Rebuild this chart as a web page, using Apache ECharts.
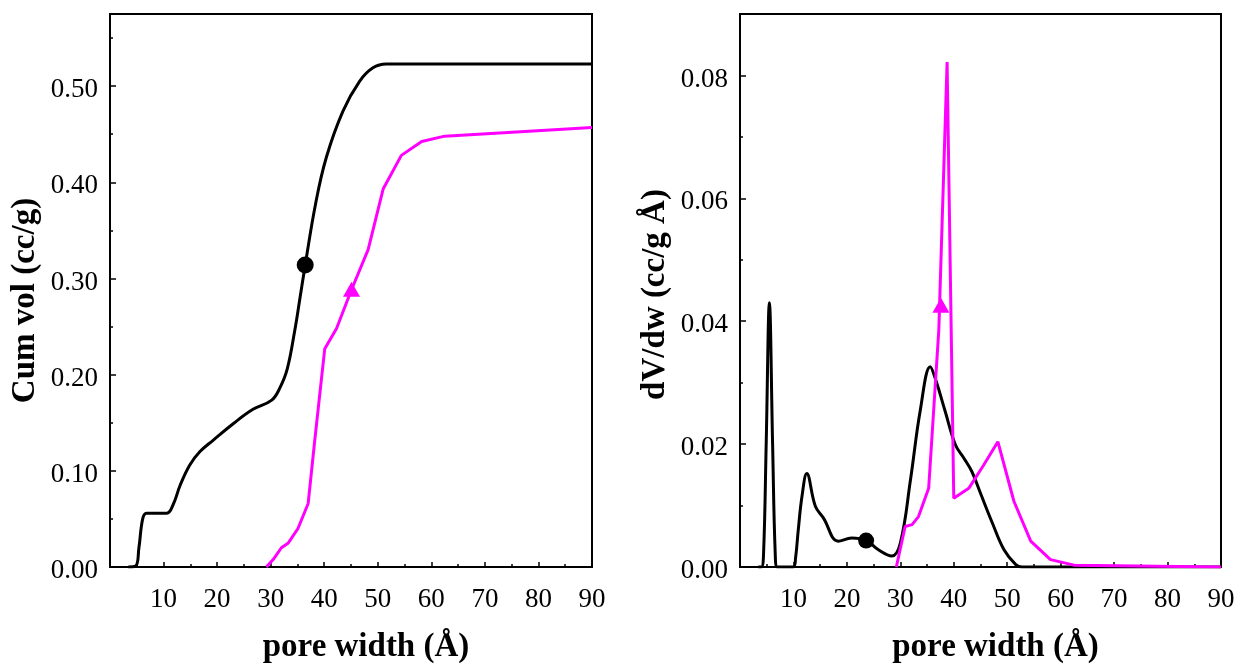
<!DOCTYPE html>
<html>
<head>
<meta charset="utf-8">
<script src="https://cdn.jsdelivr.net/npm/echarts@6/dist/echarts.min.js"></script>
<style>
  html, body { margin: 0; background: #fff; }
  #main { width: 1239px; height: 666px; }
</style>
</head>
<body>
<div id="main"></div>
<script>
// left panel - cumulative pore volume (cc/g) vs pore width (Å)
const cumBlackX = [3.4, 4.8, 5.4, 6.1, 6.8, 10.6, 11.8, 13.1, 14.9, 16.8, 19.3, 23.0, 26.7, 30.2, 31.7, 33.1, 34.5, 35.4, 36.45, 38.4, 40.4, 43.5, 46.6, 49.1, 51.6, 55, 90];
const cumBlackY = [0, 0.001, 0.02, 0.05, 0.056, 0.056, 0.065, 0.085, 0.106, 0.12, 0.132, 0.149, 0.164, 0.1735, 0.186, 0.206, 0.246, 0.277, 0.314, 0.378, 0.426, 0.474, 0.505, 0.519, 0.523, 0.523, 0.523];
const cumPinkX = [29.2, 30.5, 32.0, 33.3, 35.1, 37.0, 38.2, 40.1, 42.3, 45.0, 48.2, 51.0, 54.4, 58.2, 62.5, 90];
const cumPinkY = [0, 0.008, 0.02, 0.025, 0.04, 0.066, 0.13, 0.227, 0.248, 0.287, 0.33, 0.393, 0.428, 0.4425, 0.448, 0.457];
const cumDot = [36.45, 0.314];
const cumTri = [45.1, 0.2887];

// right panel - dV/dw (cc/g Å) vs pore width (Å)
const psdBlackX = [3.4, 4.0, 4.4, 4.9, 5.5, 6.1, 6.6, 7.0, 10.0, 10.4, 10.9, 11.6, 12.5, 14.1, 15.6, 18.4, 20.9, 23.6, 25.9, 28.4, 30.0, 31.9, 33.75, 35.6, 36.6, 38.4, 40.3, 41.9, 43.4, 45.0, 47.2, 49.4, 51.6, 52.8, 90];
const psdBlackY = [0, 0, 0.002, 0.02, 0.043, 0.02, 0.002, 0, 0, 0.0015, 0.006, 0.0115, 0.0152, 0.0099, 0.008, 0.0042, 0.0047, 0.0043, 0.0028, 0.0018, 0.0039, 0.0142, 0.0256, 0.0326, 0.0305, 0.0253, 0.0199, 0.0177, 0.0155, 0.012, 0.0072, 0.0028, 0.0004, 0, 0];
const psdPinkX = [29.25, 30.9, 32.2, 33.4, 35.3, 37.2, 38.75, 40.0, 42.8, 45.6, 48.25, 51.25, 54.4, 58.1, 62.5, 90];
const psdPinkY = [0, 0.0066, 0.0069, 0.0082, 0.0128, 0.0386, 0.0822, 0.0112, 0.0128, 0.0166, 0.0204, 0.0107, 0.0042, 0.0012, 0.0003, 0];
const psdDot = [23.6, 0.0043];
const psdTri = [37.6, 0.0426];

const xTicks = [10, 20, 30, 40, 50, 60, 70, 80, 90];

const pair = (xs, ys) => xs.map((x, i) => [x, ys[i]]);
const FONT = "'Liberation Serif', 'Times New Roman', serif";
const BLACK = '#000';
const PINK = '#ff00ff';

function xAxisOf(gridIndex) {
  return {
    type: 'value', gridIndex, min: 0, max: 90, interval: 10,
    name: 'pore width (Å)', nameLocation: 'middle', nameGap: 64,
    nameTextStyle: { fontFamily: FONT, fontWeight: 'bold', fontSize: 33, color: BLACK, padding: [0, 0, 0, 30] },
    axisLine: { show: true, lineStyle: { color: BLACK, width: 2 } },
    axisTick: { show: true, inside: true, length: 5, lineStyle: { color: BLACK, width: 1.5 } },
    splitLine: { show: false },
    axisLabel: {
      fontFamily: FONT, fontSize: 27, color: BLACK, margin: 19,
      formatter: v => (xTicks.includes(v) ? String(v) : '')
    }
  };
}

// extra axes that only carry the short half-step ticks
function xMinorOf(gridIndex) {
  return {
    type: 'value', gridIndex, min: 0, max: 90, interval: 5, position: 'bottom',
    axisLine: { show: false }, axisLabel: { show: false }, splitLine: { show: false },
    axisTick: { show: true, inside: true, length: 3, lineStyle: { color: BLACK, width: 1.5 } }
  };
}

function yAxisOf(gridIndex, max, step, name, padRight) {
  return {
    type: 'value', gridIndex, min: 0, max, interval: step, position: 'left',
    name, nameLocation: 'middle', nameGap: 68,
    nameTextStyle: { fontFamily: FONT, fontWeight: 'bold', fontSize: 33, color: BLACK, padding: [0, padRight, 0, 0] },
    axisLine: { show: true, lineStyle: { color: BLACK, width: 2 } },
    axisTick: { show: true, inside: true, length: 6, lineStyle: { color: BLACK, width: 1.5 } },
    splitLine: { show: false },
    axisLabel: {
      color: BLACK, margin: 12, showMaxLabel: false,
      formatter: v => '{n|' + v.toFixed(2) + '}',
      rich: { n: { fontFamily: FONT, fontSize: 27, color: BLACK, padding: [8, 0, 0, 0] } }
    }
  };
}

function yMinorOf(gridIndex, max, step) {
  return {
    type: 'value', gridIndex, min: 0, max, interval: step, position: 'left',
    axisLine: { show: false }, axisLabel: { show: false }, splitLine: { show: false },
    axisTick: { show: true, inside: true, length: 3, lineStyle: { color: BLACK, width: 1.5 } }
  };
}

function curve(xi, yi, data, color, smooth) {
  return {
    type: 'line', xAxisIndex: xi, yAxisIndex: yi, data,
    showSymbol: false, smooth: smooth ? 0.4 : false,
    lineStyle: { color, width: 3 }, z: color === PINK ? 3 : 2, animation: false
  };
}

function marker(xi, yi, point, color, symbol, size) {
  return {
    type: 'scatter', xAxisIndex: xi, yAxisIndex: yi, data: [point],
    symbol, symbolSize: size, itemStyle: { color, opacity: 1 }, z: 5, animation: false
  };
}

const chart = echarts.init(document.getElementById('main'));
chart.setOption({
  backgroundColor: '#fff',
  animation: false,
  grid: [
    { left: 110, top: 14, width: 482, height: 553, outerBoundsMode: 'none', containLabel: false, show: true, borderColor: BLACK, borderWidth: 2 },
    { left: 740, top: 14, width: 481, height: 553, outerBoundsMode: 'none', containLabel: false, show: true, borderColor: BLACK, borderWidth: 2 }
  ],
  xAxis: [xAxisOf(0), xAxisOf(1), xMinorOf(0), xMinorOf(1)],
  yAxis: [
    yAxisOf(0, 0.575, 0.1, 'Cum vol (cc/g)', 20),
    yAxisOf(1, 0.09, 0.02, 'dV/dw (cc/g Å)', 8),
    yMinorOf(0, 0.575, 0.05),
    yMinorOf(1, 0.09, 0.01)
  ],
  series: [
    curve(0, 0, pair(cumBlackX, cumBlackY), BLACK, true),
    curve(0, 0, pair(cumPinkX, cumPinkY), PINK, false),
    marker(0, 0, cumDot, BLACK, 'circle', 17),
    marker(0, 0, cumTri, PINK, 'triangle', [17, 15]),
    curve(1, 1, pair(psdBlackX, psdBlackY), BLACK, true),
    curve(1, 1, pair(psdPinkX, psdPinkY), PINK, false),
    marker(1, 1, psdDot, BLACK, 'circle', 16),
    marker(1, 1, psdTri, PINK, 'triangle', [17, 15])
  ]
});
</script>
</body>
</html>
